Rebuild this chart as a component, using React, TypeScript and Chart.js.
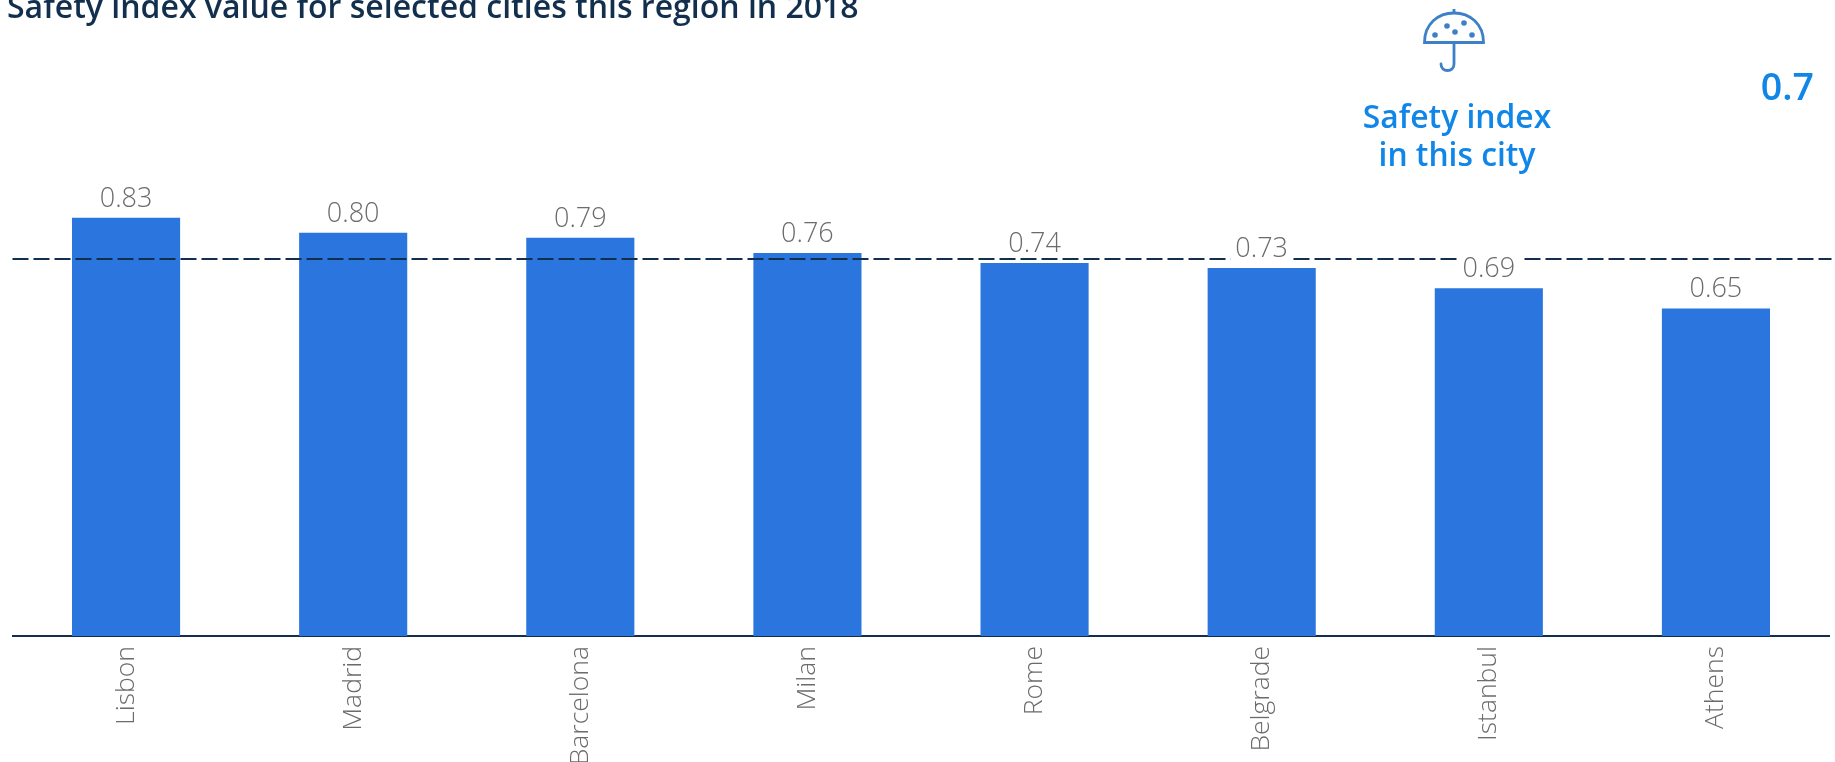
import React, { useEffect, useRef } from "react";
import { Chart, registerables } from "chart.js";

Chart.register(...registerables);

const cities = ["Lisbon", "Madrid", "Barcelona", "Milan", "Rome", "Belgrade", "Istanbul", "Athens"];
const safetyIndex = [0.83, 0.8, 0.79, 0.76, 0.74, 0.73, 0.69, 0.65];
const valueLabels = ["0.83", "0.80", "0.79", "0.76", "0.74", "0.73", "0.69", "0.65"];
const referenceLine = 0.749;
const cityValueText = "0.7";
const titleText = "Safety index value for selected cities this region in 2018";
const cityLabelLines = ["Safety index", "in this city"];

const FONT = '"Open Sans", sans-serif';
const NAVY = "#12304d";
const ACCENT = "#0f86e8";

const overlayPlugin = {
  id: "overlay",
  afterDatasetsDraw(chart: any) {
    const { ctx, chartArea, scales } = chart;
    const y = Math.round(scales.y.getPixelForValue(referenceLine) + 0.2);
    ctx.save();
    ctx.strokeStyle = NAVY;
    ctx.lineWidth = 2;
    ctx.setLineDash([16, 5]);
    ctx.beginPath();
    ctx.moveTo(chartArea.left, y);
    ctx.lineTo(chartArea.right + 2, y);
    ctx.stroke();
    ctx.setLineDash([]);
    ctx.font = `300 27px ${FONT}`;
    ctx.textAlign = "center";
    ctx.textBaseline = "alphabetic";
    safetyIndex.forEach((v, i) => {
      const cx = scales.x.getPixelForValue(i);
      const base = scales.y.getPixelForValue(v) - 11;
      const w = ctx.measureText(valueLabels[i]).width;
      ctx.fillStyle = "#ffffff";
      ctx.fillRect(cx - w / 2 - 5, base - 24, w + 10, 28.5);
      ctx.fillStyle = "#6b6b6b";
      ctx.fillText(valueLabels[i], cx, base);
    });
    ctx.restore();
  },
};

function Umbrella() {
  const c = "#3d80c8";
  return (
    <svg
      width={62}
      height={64}
      viewBox="0 0 62 64"
      style={{ position: "absolute", left: 1423, top: 8 }}
      fill="none"
      stroke={c}
      strokeWidth={2.8}
    >
      <path d="M1.5 34.5 C1.5 16 15 5 31 5 C47 5 60.5 16 60.5 34.5 Z" />
      <path d="M31 1 V5" />
      <path d="M31 34.5 V56 C31 60.5 28 62.5 24.5 62.5 C21 62.5 18 60.5 18 56" strokeLinecap="round" />
      <g fill={c} stroke="none">
        <circle cx="12" cy="27" r="2.8" />
        <circle cx="24" cy="18" r="2.8" />
        <circle cx="32" cy="24" r="2.8" />
        <circle cx="41" cy="15" r="2.8" />
        <circle cx="49" cy="27" r="2.8" />
      </g>
    </svg>
  );
}

export default function App() {
  const ref = useRef<HTMLCanvasElement | null>(null);

  useEffect(() => {
    const chart = new Chart(ref.current as HTMLCanvasElement, {
      type: "bar",
      data: {
        labels: cities,
        datasets: [
          {
            label: "Safety index",
            data: safetyIndex,
            backgroundColor: "#2a75de",
            categoryPercentage: 1,
            barPercentage: 0.476,
          },
        ],
      },
      options: {
        animation: false,
        responsive: false,
        layout: { padding: { left: 12.5, right: 5.5, top: 0, bottom: 0 } },
        plugins: { legend: { display: false }, tooltip: { enabled: false } },
        scales: {
          x: {
            grid: { display: false, drawTicks: false },
            border: { color: NAVY, width: 2 },
            afterFit(s: any) {
              s.height = 126;
            },
            ticks: {
              autoSkip: false,
              minRotation: 90,
              maxRotation: 90,
              padding: 10,
              color: "#6b6b6b",
              font: { family: FONT, size: 26.5, weight: "300" },
            },
          },
          y: { display: false, min: 0, max: 1.262 },
        },
      },
      plugins: [overlayPlugin],
    } as any);
    return () => chart.destroy();
  }, []);

  const text = (style: React.CSSProperties): React.CSSProperties => ({
    position: "absolute",
    fontFamily: FONT,
    whiteSpace: "nowrap",
    ...style,
  });

  return (
    <div style={{ position: "fixed", left: 0, top: 0, width: 1835, height: 762, overflow: "hidden", background: "#fff" }}>
      <canvas ref={ref} width={1835} height={762} style={{ position: "absolute", left: 0, top: 0 }} />
      <div style={text({ left: 7, top: -17, fontSize: 32, lineHeight: "46px", fontWeight: 600, color: NAVY })}>{titleText}</div>
      <Umbrella />
      <div style={text({ left: 1301, width: 312, top: 97, textAlign: "center", fontSize: 31.8, lineHeight: "38px", fontWeight: 600, color: ACCENT })}>
        {cityLabelLines.map((l) => (
          <div key={l}>{l}</div>
        ))}
      </div>
      <div style={text({ right: 21, top: 61, fontSize: 37.5, lineHeight: "50px", fontWeight: 600, color: ACCENT })}>{cityValueText}</div>
    </div>
  );
}
